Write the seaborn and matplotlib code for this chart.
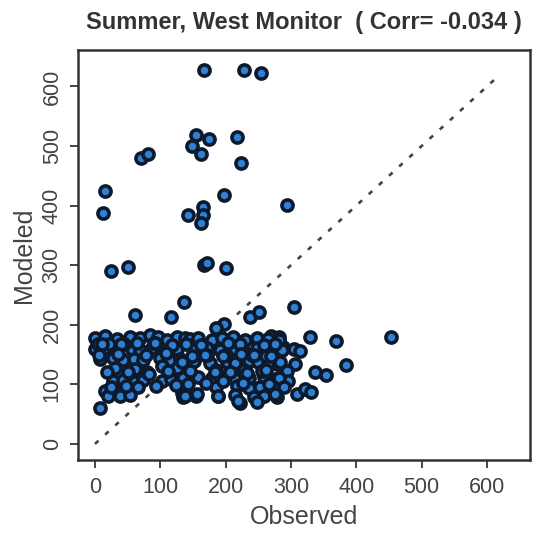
import matplotlib
matplotlib.use("Agg")
import matplotlib.pyplot as plt
import seaborn as sns
import pandas as pd

# Observed vs modeled concentrations, summer season, west monitor
observed = [
    167, 228, 254,
    155, 175, 149, 162, 218, 223,
    70, 81, 15, 12,
    197, 294, 166, 142, 166, 162,
    24, 51, 167, 171, 200,
    62, 117, 136, 197, 185, 237, 251, 304,
    329, 369, 453, 384, 337, 354, 309, 322, 331, 304, 314, 306,
    270, 281, 273, 288, 278, 294, 276, 296, 273, 278,
    0, 15, 33, 53, 69, 84, 97, 110, 125, 138,
    0, 15, 31, 56, 69, 87, 105, 125,
    8, 28, 43, 59, 74, 100, 115, 130,
    31, 61, 102, 125,
    28, 43, 61, 74, 102, 117, 130,
    15, 28, 41, 54,
    20, 38, 54,
    8, 133, 135, 155, 188, 222,
    145, 158, 179, 194, 212, 230, 248, 265, 281,
    153, 171, 191, 209, 227, 248, 268, 286,
    133, 151, 176, 202, 214, 235, 250, 265, 283,
    135, 158, 179, 191, 214, 235, 258, 281,
    186, 217, 235, 253, 273,
    138, 156, 189, 214, 243, 258, 276,
    219, 248,
    5, 22, 45, 90, 118, 172, 200, 240, 262, 80, 94, 186, 228, 256,
    10, 40, 64, 92, 140, 163, 204, 222, 258, 276,
    6, 36, 78, 108, 148, 168, 196, 224, 244, 270,
    18, 50, 82, 112, 146, 184, 206, 232, 262,
    25, 48, 66, 124, 142, 170, 196, 226, 266, 290,
]
modeled = [
    628, 628, 622,
    518, 512, 500, 486, 515, 472,
    480, 486, 425, 388,
    418, 401, 398, 384, 384, 371,
    290, 297, 300, 303, 295,
    216, 213, 239, 202, 195, 213, 222, 230,
    180, 173, 179, 133, 120, 115, 84, 92, 87, 159, 156, 134,
    181, 179, 159, 162, 134, 123, 109, 106, 89, 78,
    178, 181, 176, 180, 177, 182, 179, 175, 180, 177,
    159, 161, 157, 160, 158, 161, 156, 159,
    142, 145, 140, 143, 141, 144, 139, 142,
    128, 126, 130, 127,
    106, 108, 104, 107, 105, 109, 106,
    89, 90, 88, 91,
    81, 80, 82,
    61, 86, 78, 81, 81, 69,
    176, 178, 174, 177, 179, 175, 178, 176, 174,
    159, 161, 158, 160, 157, 161, 159, 158,
    137, 139, 136, 138, 135, 139, 137, 136, 138,
    111, 113, 110, 112, 109, 111, 113, 110,
    95, 97, 94, 96, 95,
    81, 83, 80, 82, 79, 81, 83,
    72, 70,
    168, 168, 167, 170, 166, 150, 150, 150, 148, 120, 98, 124, 124, 122,
    168, 167, 169, 170, 168, 166, 169, 167, 166, 168,
    150, 151, 149, 152, 148, 150, 148, 151, 149, 147,
    120, 121, 118, 122, 123, 120, 121, 119, 124,
    96, 98, 95, 99, 100, 102, 105, 102, 100, 96,
]
line_ends = [0, 620]
ticks = [0, 100, 200, 300, 400, 500, 600]

df = pd.DataFrame({"Observed": observed, "Modeled": modeled})

sns.set_style("white")
plt.rcParams["font.family"] = ["Liberation Sans", "DejaVu Sans"]

fig = plt.figure(figsize=(5.36, 5.33), dpi=100)
ax = fig.add_axes([0.1455, 0.137, 0.8435, 0.769])

sns.scatterplot(data=df, x="Observed", y="Modeled", ax=ax,
                s=64, color="#2f7fd4", edgecolor="#0c1a2c", linewidth=2.6,
                legend=False, zorder=3)

ax.plot(line_ends, line_ends, color="#444444", linewidth=1.9,
        dashes=(1.8, 3.4), zorder=2)

ax.set_xlim(-26, 666)
ax.set_ylim(-27, 661)
ax.set_xticks(ticks)
ax.set_yticks(ticks)
ax.set_xticklabels([str(t) for t in ticks])
ax.set_yticklabels([str(t) for t in ticks], rotation=90, va="center")

ax.tick_params(axis="both", which="major", direction="out", length=6,
               width=1.4, color="#444444", labelsize=15.5,
               labelcolor="#444444", bottom=True, left=True)
ax.tick_params(axis="x", pad=6)
ax.tick_params(axis="y", pad=5)

for side in ax.spines.values():
    side.set_visible(True)
    side.set_color("#333333")
    side.set_linewidth(1.8)

ax.set_xlabel("Observed", fontsize=18, color="#444444", labelpad=5)
ax.set_ylabel("Modeled", fontsize=18, color="#444444", labelpad=4)
ax.set_title("Summer, West Monitor  ( Corr= -0.034 )", fontsize=17,
             fontweight="bold", color="#333333", pad=15)

fig.savefig("out.png", dpi=100, facecolor="white")
